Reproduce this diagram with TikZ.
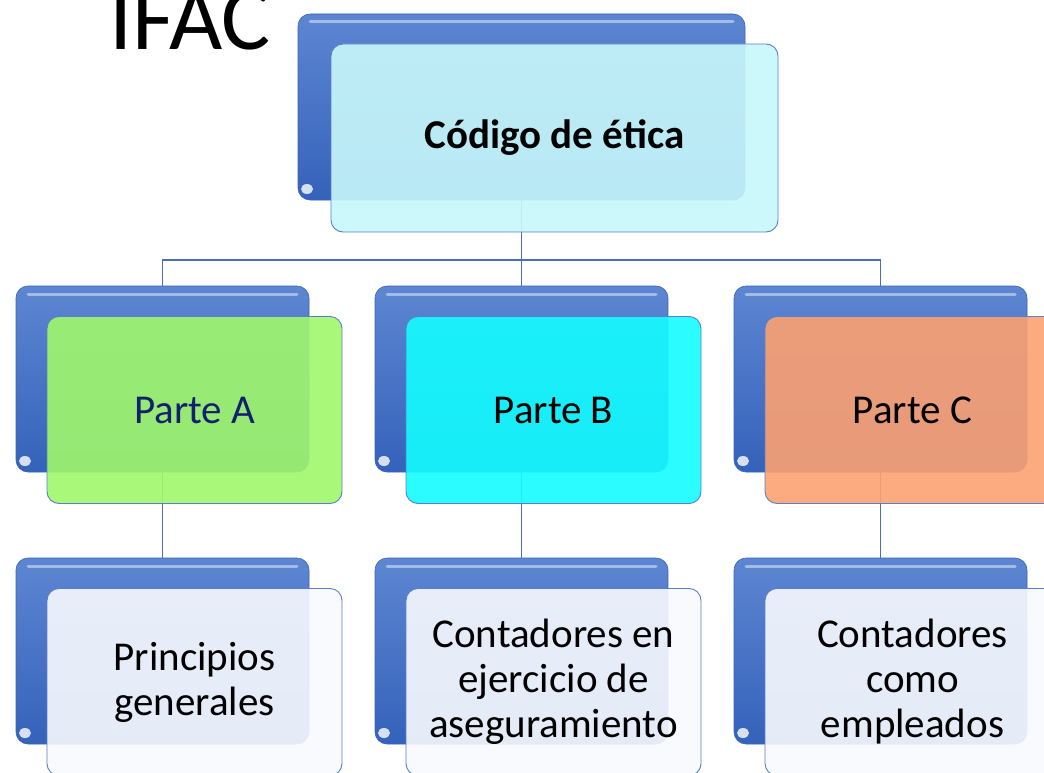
\documentclass[tikz,border=0pt]{standalone}
\usepackage{fontspec}
\setmainfont{Carlito}
\usetikzlibrary{positioning}

\definecolor{boxtop}{HTML}{5D86D2}
\definecolor{boxbot}{HTML}{3562BA}
\definecolor{boxedge}{HTML}{3A64B4}
\definecolor{frontedge}{HTML}{5A7FC8}
\definecolor{linkblue}{HTML}{4A6DB3}
\definecolor{topfill}{HTML}{C8F8FB}
\definecolor{afill}{HTML}{A0F86C}
\definecolor{bfill}{HTML}{14FCFF}
\definecolor{cfill}{HTML}{FCA172}
\definecolor{leaffill}{HTML}{F8FAFE}
\definecolor{navy}{HTML}{13206E}

\tikzset{
  backbox/.style={rounded corners=12pt, top color=boxtop, bottom color=boxbot,
    draw=boxedge, line width=0.6pt, minimum width=293pt, minimum height=186pt,
    inner sep=0pt,
    path picture={
      \draw[white, opacity=0.45, line width=3pt, line cap=round]
        ([xshift=12pt,yshift=-8pt]path picture bounding box.north west) --
        ([xshift=-12pt,yshift=-8pt]path picture bounding box.north east);
      \fill[white, opacity=0.8]
        ([xshift=9pt,yshift=11pt]path picture bounding box.south west)
        ellipse (6pt and 5pt);
    }},
  frontbox/.style={rounded corners=12pt, draw=frontedge, line width=0.9pt,
    fill opacity=0.9, text opacity=1, minimum width=295pt, minimum height=187pt,
    inner sep=0pt, align=center, font=\fontsize{41}{45}\selectfont},
  link/.style={draw=linkblue, line width=1.4pt}
}

\begin{document}
\begin{tikzpicture}[x=1pt,y=-1pt,on grid,node distance=272pt and 359pt]
  \path[use as bounding box, clip] (0,0) rectangle (1044,773);
  \fill[white] (0,0) rectangle (1044,773);

  \node[anchor=base, font=\fontsize{92}{92}\selectfont] (ifac) at (190,50) {IFAC};

  % back boxes
  \node[backbox, minimum width=447pt] (codigo-back) at (521.5,107) {};
  \node[backbox] (parteB-back) [below=of codigo-back] {};
  \node[backbox] (parteA-back) [left=of parteB-back] {};
  \node[backbox] (parteC-back) [right=of parteB-back] {};
  \node[backbox] (leafA-back) [below=of parteA-back] {};
  \node[backbox] (leafB-back) [below=of parteB-back] {};
  \node[backbox] (leafC-back) [below=of parteC-back] {};

  % links
  \coordinate (bus) at (522,260);
  \draw[link] (codigo-back.south) -- (parteB-back.north);
  \draw[link] (parteA-back.north) |- (bus) -| (parteC-back.north);
  \draw[link] (parteA-back.south) -- (leafA-back.north);
  \draw[link] (parteB-back.south) -- (leafB-back.north);
  \draw[link] (parteC-back.south) -- (leafC-back.north);

  % front boxes
  \node[frontbox, fill=topfill, minimum width=447pt, minimum height=188pt,
    font=\fontsize{41}{45}\selectfont\bfseries] (codigo)
    [below right=31pt and 33pt of codigo-back] {Código de ética};
  \node[frontbox, fill=afill, text=navy] (parteA)
    [below right=31pt and 32pt of parteA-back] {Parte A};
  \node[frontbox, fill=bfill] (parteB)
    [below right=31pt and 32pt of parteB-back] {Parte B};
  \node[frontbox, fill=cfill] (parteC)
    [below right=31pt and 32pt of parteC-back] {Parte C};
  \node[frontbox, fill=leaffill] (leafA)
    [below right=31pt and 32pt of leafA-back] {Principios\\generales};
  \node[frontbox, fill=leaffill] (leafB)
    [below right=31pt and 32pt of leafB-back] {Contadores en\\ejercicio de\\aseguramiento};
  \node[frontbox, fill=leaffill] (leafC)
    [below right=31pt and 32pt of leafC-back] {Contadores\\como\\empleados};
\end{tikzpicture}
\end{document}
